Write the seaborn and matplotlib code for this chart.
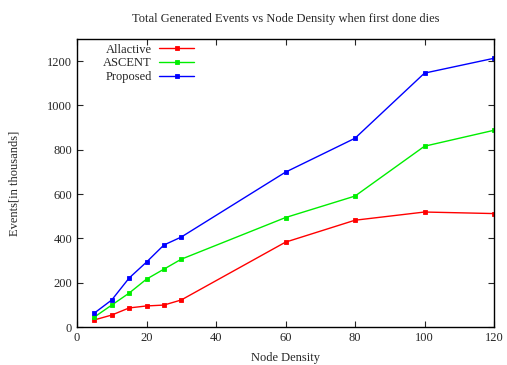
import matplotlib
matplotlib.use("Agg")
import matplotlib.pyplot as plt
import seaborn as sns
import pandas as pd

density = [5, 10, 15, 20, 25, 30, 60, 80, 100, 120]
allactive = [32, 54, 86, 95, 99, 122, 383, 482, 519, 512]
ascent = [45, 99, 153, 216, 261, 306, 494, 591, 816, 888]
proposed = [63, 122, 221, 293, 370, 406, 699, 852, 1146, 1213]
series_names = ["Allactive", "ASCENT", "Proposed"]
colors = ["#ff0000", "#00ee00", "#0000ff"]

df = pd.DataFrame({
    "x": density * 3,
    "y": allactive + ascent + proposed,
    "s": [series_names[0]] * 10 + [series_names[1]] * 10 + [series_names[2]] * 10,
})

sns.set_style("ticks")
plt.rcParams['font.family'] = ['Liberation Serif', 'DejaVu Serif']

fig = plt.figure(figsize=(5.07, 3.65), dpi=100)
ax = fig.add_axes([77/507, 1 - 327/365, (494-77)/507, (327-39)/365])
sns.lineplot(data=df, x="x", y="y", hue="s", palette=colors, marker="s",
             markersize=3.5, markeredgewidth=0.6, linewidth=1.0, ax=ax,
             hue_order=series_names)
for ln in ax.get_lines():
    ln.set_markeredgecolor(ln.get_color())

ax.set_xlim(0, 120)
ax.set_ylim(0, 1300)
ax.set_xticks(range(0, 121, 20))
ax.set_yticks(range(0, 1201, 200))
ax.tick_params(direction="in", top=True, right=True, labelsize=9, length=4, width=0.8)
for sp in ax.spines.values():
    sp.set_linewidth(1.0)
    sp.set_color("black")
ax.set_xlabel("Node Density", fontsize=9, labelpad=6)
ax.set_ylabel("Events[in thousands]", fontsize=9, labelpad=19)
ax.set_title("Total Generated Events vs Node Density when first done dies", fontsize=9, pad=12)

leg = ax.legend(loc="upper left", bbox_to_anchor=(0.045, 1.01), frameon=False,
                markerfirst=False, fontsize=9, handlelength=2.8, labelspacing=0.15,
                handletextpad=0.6, borderaxespad=0.2)
for h in leg.legend_handles:
    h.set_markeredgecolor(h.get_color())
for t in leg.get_texts():
    t.set_ha("right")
leg._legend_box.align = "right"

fig.savefig("out.png", dpi=100)
